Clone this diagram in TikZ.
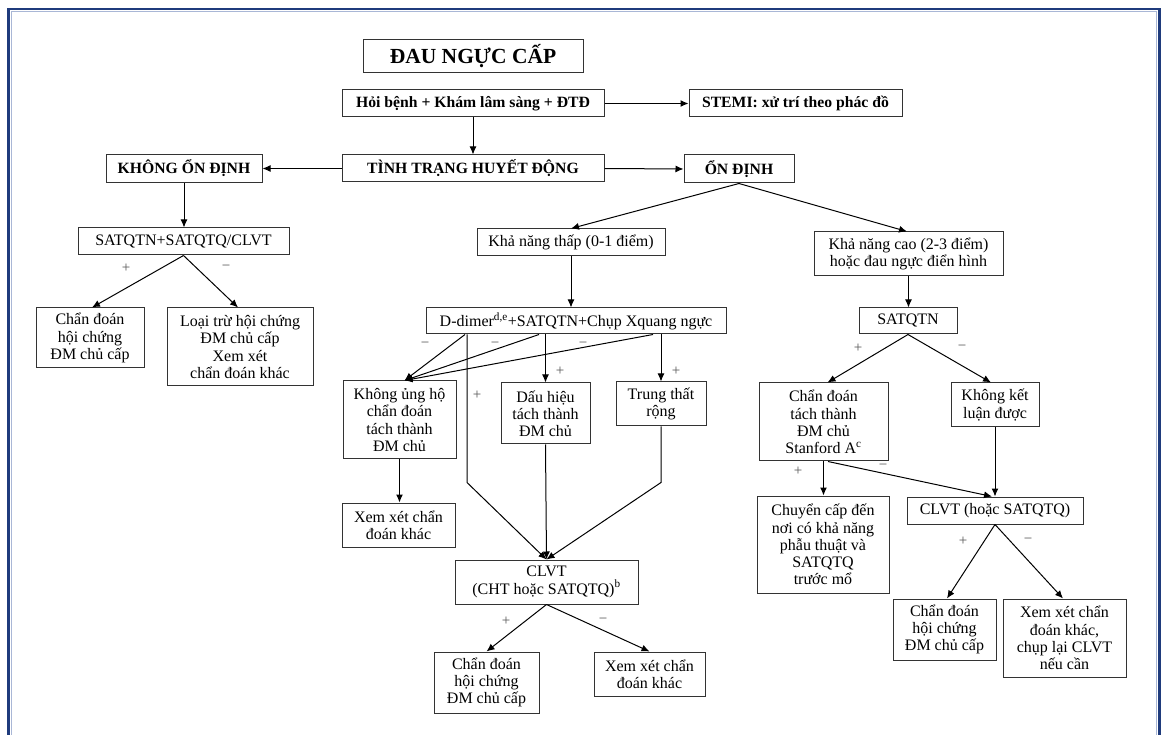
\documentclass[tikz,border=0pt]{standalone}
\usepackage{fontspec}
\setmainfont{Liberation Serif}
\usetikzlibrary{arrows.meta,calc}
\definecolor{navy}{HTML}{1F3B7C}
\definecolor{navylight}{HTML}{A9B7D6}
\definecolor{lbl}{HTML}{555555}
\begin{document}
\begin{tikzpicture}[x=1pt,y=-1pt,
  box/.style={draw=black!80,line width=1pt,inner sep=0pt,align=center,
    font=\fontsize{16}{17.2}\selectfont},
  hbox/.style={box,font=\fontsize{15.7}{17.2}\selectfont\bfseries},
  arr/.style={draw=black,line width=1pt,-{Latex[length=8pt,width=7pt]}},
  sg/.style={text=lbl,inner sep=0pt,font=\fontsize{15}{15}\selectfont}]
\useasboundingbox (0,0) rectangle (1163,735);
\begin{scope}
\clip (0,0) rectangle (1163,735);
\draw[navy,line width=2.6pt] (8.5,760) -- (8.5,9) -- (1159.5,9) -- (1159.5,760);
\draw[navylight,line width=0.8pt] (11.2,760) -- (11.2,11.7) -- (1156.8,11.7) -- (1156.8,760);
\end{scope}
% nodes
\node[hbox,minimum width=220pt,minimum height=33pt,font=\fontsize{21.5}{22}\selectfont\bfseries] (title) at (473,56.5) {ĐAU NGỰC CẤP};
\node[hbox,minimum width=262pt,minimum height=27pt] (hoi) at (473,103.5) {Hỏi bệnh + Khám lâm sàng + ĐTĐ};
\node[hbox,minimum width=213pt,minimum height=27pt] (stemi) at (795.5,103.5) {STEMI: xử trí theo phác đồ};
\node[hbox,minimum width=262pt,minimum height=27pt] (tinh) at (473,168.5) {TÌNH TRẠNG HUYẾT ĐỘNG};
\node[hbox,minimum width=156pt,minimum height=28pt] (kod) at (184,168.5) {KHÔNG ỔN ĐỊNH};
\node[hbox,minimum width=110pt,minimum height=28pt] (od) at (739,169) {ỔN ĐỊNH};
\node[box,minimum width=211pt,minimum height=27pt] (sat1) at (183.5,241.5) {SATQTN+SATQTQ/CLVT};
\node[box,minimum width=108pt,minimum height=60pt] (cd1) at (90,338) {Chẩn đoán\\hội chứng\\ĐM chủ cấp};
\node[box,minimum width=146pt,minimum height=78pt] (lt) at (240,347) {Loại trừ hội chứng\\ĐM chủ cấp\\Xem xét\\chẩn đoán khác};
\node[box,minimum width=188pt,minimum height=27pt] (knt) at (571,242.5) {Khả năng thấp (0-1 điểm)};
\node[box,minimum width=189pt,minimum height=44pt] (knc) at (908.5,254) {Khả năng cao (2-3 điểm)\\hoặc đau ngực điển hình};
\node[box,minimum width=300pt,minimum height=26pt] (dd) at (576,321) {D-dimer\textsuperscript{d,e}+SATQTN+Chụp Xquang ngực};
\node[box,minimum width=98pt,minimum height=26pt] (sat2) at (908,321) {SATQTN};
\node[box,minimum width=113pt,minimum height=78pt] (kuh) at (399.5,420) {Không ủng hộ\\chẩn đoán\\tách thành\\ĐM chủ};
\node[box,minimum width=89pt,minimum height=61pt] (dh) at (545.5,413.5) {Dấu hiệu\\tách thành\\ĐM chủ};
\node[box,minimum width=90pt,minimum height=44pt] (tt) at (661,404) {Trung thất\\rộng};
\node[box,minimum width=113pt,minimum height=44pt] (xx1) at (398.5,525) {Xem xét chẩn\\đoán khác};
\node[box,minimum width=183pt,minimum height=44pt] (clvt1) at (546.5,582) {CLVT\\(CHT hoặc SATQTQ)\textsuperscript{b}};
\node[box,minimum width=105pt,minimum height=61pt] (cd2) at (486.5,682.5) {Chẩn đoán\\hội chứng\\ĐM chủ cấp};
\node[box,minimum width=111pt,minimum height=44pt] (xx2) at (649.5,674) {Xem xét chẩn\\đoán khác};
\node[box,minimum width=129pt,minimum height=78pt] (stan) at (823.5,422) {Chẩn đoán\\tách thành\\ĐM chủ\\Stanford A\textsuperscript{c}};
\node[box,minimum width=88pt,minimum height=44pt] (kkl) at (995,405) {Không kết\\luận được};
\node[box,minimum width=132pt,minimum height=97pt] (chuyen) at (823,544.5) {Chuyển cấp đến\\nơi có khả năng\\phẫu thuật và\\SATQTQ\\trước mổ};
\node[box,minimum width=176pt,minimum height=27pt] (clvt2) at (995,510.5) {CLVT (hoặc SATQTQ)};
\node[box,minimum width=103pt,minimum height=61pt] (cd3) at (944.5,629.5) {Chẩn đoán\\hội chứng\\ĐM chủ cấp};
\node[box,minimum width=123pt,minimum height=78pt] (xx3) at (1064.5,638) {Xem xét chẩn\\đoán khác,\\chụp lại CLVT\\nếu cần};
% connectors
\draw[arr] (hoi.south) -- (tinh.north);
\draw[arr] (hoi.east) -- (stemi.west);
\draw[arr] (tinh.west) -- (kod.east);
\draw[arr] (tinh.east) -- (od.west);
\draw[arr] (kod.south) -- (sat1.north -| kod.south);
\draw[arr] (sat1.south) -- ([xshift=2pt]cd1.north);
\draw[arr] (sat1.south) -- ([xshift=-2pt]lt.north);
\draw[arr] (od.south) -- (knt.north);
\draw[arr] (od.south) -- ([xshift=-1.5pt]knc.north);
\draw[arr] (knt.south) -- (knt.south |- dd.north);
\draw[arr] (knc.south) -- (knc.south |- sat2.north);
\draw[arr] (sat2.south) -- ([xshift=4pt]stan.north);
\draw[arr] (sat2.south) -- ([xshift=-4pt]kkl.north);
\draw[arr] ([xshift=-111pt]dd.south) -- ([xshift=5pt]kuh.north);
\draw[arr] ([xshift=-37pt]dd.south) -- ([xshift=5pt]kuh.north);
\draw[arr] ([xshift=77pt]dd.south) -- ([xshift=5pt]kuh.north);
\draw[arr] (dh.north |- dd.south) -- (dh.north);
\draw[arr] (tt.north |- dd.south) -- (tt.north);
\draw[arr] ([xshift=-109pt]dd.south) -- ++(0,148) -- (clvt1.north);
\draw[arr] (dh.south) -- (clvt1.north);
\draw[arr] (tt.south) -- ++(0,56) -- (clvt1.north);
\draw[arr] (kuh.south) -- (kuh.south |- xx1.north);
\draw[arr] (clvt1.south) -- (cd2.north);
\draw[arr] (clvt1.south) -- (xx2.north);
\draw[arr] (stan.south) -- (stan.south |- chuyen.north);
\draw[arr] ([xshift=4.5pt]stan.south) -- ([xshift=-3pt]clvt2.north);
\draw[arr] (kkl.south) -- (clvt2.north);
\draw[arr] (clvt2.south) -- ([xshift=2.5pt]cd3.north);
\draw[arr] (clvt2.south) -- ([xshift=-1.5pt]xx3.north);
% signs
\node[sg] (s1) at (126,268) {+};
\node[sg] (s2) at (226,268) {−};
\node[sg] (s3) at (425,345) {−};
\node[sg] (s4) at (495,345) {−};
\node[sg] (s5) at (583,345) {−};
\node[sg] (s6) at (560,371) {+};
\node[sg] (s7) at (676,371) {+};
\node[sg] (s8) at (477,395) {+};
\node[sg] (s9) at (506,621) {+};
\node[sg] (s10) at (603,621) {−};
\node[sg] (s11) at (858,348) {+};
\node[sg] (s12) at (962,348) {−};
\node[sg] (s13) at (798,471) {+};
\node[sg] (s14) at (883,467) {−};
\node[sg] (s15) at (963,541) {+};
\node[sg] (s16) at (1028,541) {−};
\end{tikzpicture}
\end{document}
